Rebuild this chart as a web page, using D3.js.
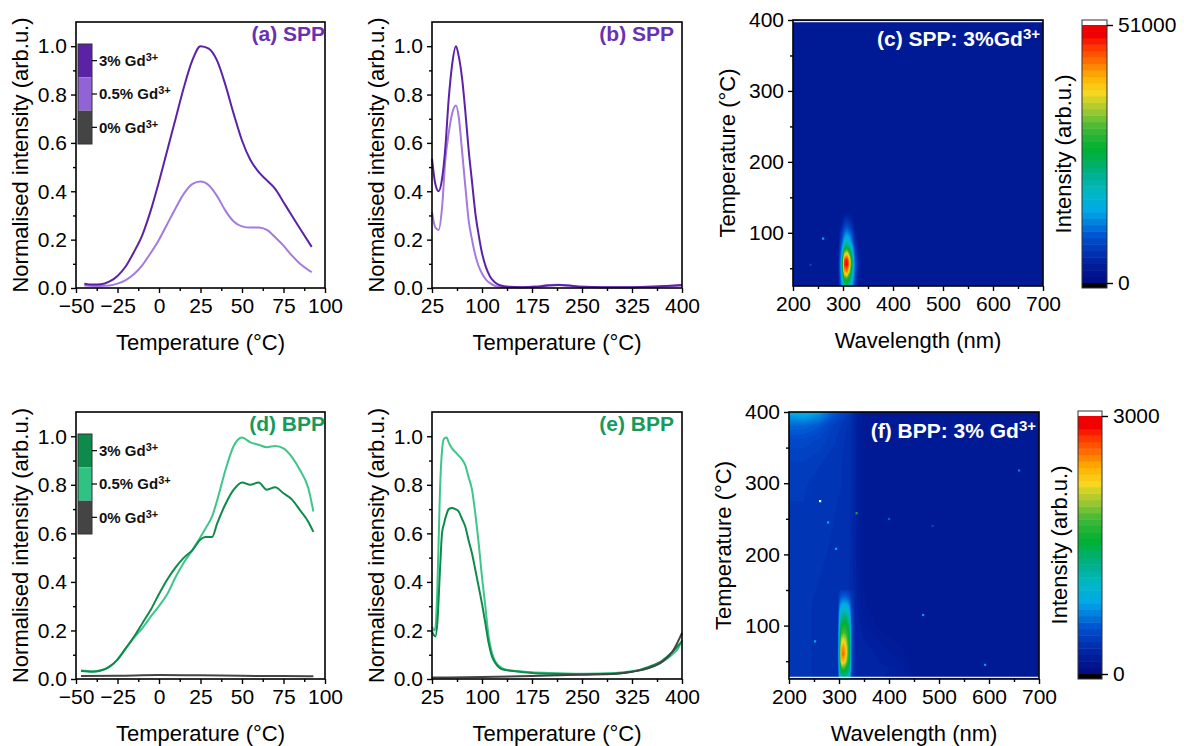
<!DOCTYPE html>
<html>
<head>
<meta charset="utf-8">
<script src="https://cdn.jsdelivr.net/npm/d3@7"></script>
<style>
  body { margin: 0; background: #fff; }
  svg { font-family: Arial, "Liberation Sans", sans-serif; }
</style>
</head>
<body>
<svg id="fig" width="1184" height="746"></svg>
<script>
// ---- data ----
// (a) SPP, low temperature range
var tempA = [-45, -40, -35, -30, -25, -20, -15, -10, -5, 0, 5, 10, 15, 20, 25, 30, 35, 40, 45, 50, 55, 60, 65, 70, 75, 80, 85, 92];
var sppA_3 = [0.018, 0.014, 0.015, 0.026, 0.05, 0.09, 0.15, 0.22, 0.32, 0.44, 0.57, 0.70, 0.83, 0.94, 1.0, 0.99, 0.94, 0.84, 0.72, 0.61, 0.53, 0.48, 0.445, 0.41, 0.355, 0.30, 0.245, 0.17];
var sppA_05 = [0.01, 0.008, 0.008, 0.01, 0.018, 0.033, 0.058, 0.095, 0.145, 0.20, 0.265, 0.33, 0.39, 0.43, 0.44, 0.425, 0.38, 0.32, 0.275, 0.255, 0.25, 0.25, 0.24, 0.21, 0.175, 0.135, 0.10, 0.065];

// (b) SPP, high temperature range
var tempB = [25, 30, 35, 40, 45, 50, 55, 61, 65, 70, 75, 80, 85, 90, 95, 100, 106, 112, 120, 128, 140, 160, 180, 200, 215, 230, 250, 280, 320, 360, 400];
var sppB_3 = [0.535, 0.43, 0.40, 0.45, 0.58, 0.78, 0.92, 1.0, 0.96, 0.87, 0.73, 0.57, 0.44, 0.31, 0.22, 0.145, 0.085, 0.048, 0.022, 0.01, 0.005, 0.003, 0.005, 0.01, 0.012, 0.01, 0.005, 0.003, 0.003, 0.006, 0.012];
var sppB_05 = [0.315, 0.25, 0.24, 0.33, 0.53, 0.64, 0.72, 0.755, 0.71, 0.57, 0.42, 0.28, 0.20, 0.135, 0.09, 0.06, 0.035, 0.02, 0.008, 0.004, 0.003, 0.003, 0.006, 0.012, 0.013, 0.01, 0.005, 0.003, 0.003, 0.005, 0.01];

// (d) BPP, low temperature range
var tempD = [-47, -40, -35, -30, -25, -20, -15, -10, -5, 0, 5, 10, 15, 20, 25, 28, 32, 35, 40, 45, 50, 55, 60, 65, 70, 75, 80, 85, 90, 93];
var bppD_3 = [0.033, 0.030, 0.035, 0.05, 0.08, 0.127, 0.175, 0.23, 0.285, 0.35, 0.41, 0.46, 0.50, 0.53, 0.575, 0.585, 0.585, 0.64, 0.72, 0.78, 0.81, 0.80, 0.81, 0.78, 0.79, 0.765, 0.74, 0.695, 0.647, 0.606];
var bppD_05 = [0.035, 0.032, 0.036, 0.05, 0.08, 0.125, 0.17, 0.21, 0.257, 0.30, 0.35, 0.42, 0.48, 0.53, 0.585, 0.62, 0.67, 0.735, 0.86, 0.96, 0.995, 0.975, 0.965, 0.955, 0.96, 0.95, 0.915, 0.86, 0.785, 0.69];
var tempD0 = [-47, -25, 0, 25, 50, 75, 93];
var bppD_0 = [0.012, 0.013, 0.016, 0.015, 0.013, 0.012, 0.011];

// (e) BPP, high temperature range
var tempE = [25, 28, 30, 33, 37, 40, 43, 47, 50, 55, 60, 65, 70, 75, 80, 85, 90, 95, 100, 105, 110, 115, 120, 130, 140, 150, 175, 200, 250, 300, 325, 350, 370, 385, 395, 400];
var bppE_05 = [0.216, 0.20, 0.21, 0.37, 0.78, 0.94, 0.99, 0.995, 0.975, 0.95, 0.935, 0.92, 0.905, 0.88, 0.83, 0.78, 0.68, 0.56, 0.42, 0.30, 0.175, 0.107, 0.072, 0.045, 0.036, 0.033, 0.028, 0.025, 0.022, 0.025, 0.032, 0.045, 0.07, 0.10, 0.13, 0.16];
var bppE_3 = [0.195, 0.18, 0.175, 0.23, 0.45, 0.60, 0.64, 0.68, 0.70, 0.705, 0.70, 0.69, 0.66, 0.627, 0.57, 0.517, 0.45, 0.38, 0.31, 0.23, 0.148, 0.093, 0.066, 0.04, 0.035, 0.032, 0.025, 0.022, 0.02, 0.022, 0.03, 0.05, 0.075, 0.11, 0.14, 0.155];
var tempE0 = [25, 100, 175, 250, 300, 325, 350, 370, 385, 395, 400];
var bppE_0 = [0.006, 0.008, 0.012, 0.018, 0.022, 0.03, 0.045, 0.07, 0.11, 0.16, 0.19];

var legendLabels = ["3%", "0.5%", "0%"];

// (c) SPP 3% Gd map: intensity around the 310 nm emission
var maxC = 51000;
var wlC = [290, 298, 303, 308, 313, 318, 324, 332, 340];
var tC = [130, 120, 110, 100, 90, 80, 70, 62, 55, 45, 35, 25];
var spotC = [
  [2600, 2600, 3100, 3100, 3100, 3100, 2600, 2600, 2600],
  [2600, 3600, 5100, 5600, 5100, 4100, 3100, 2600, 2600],
  [2600, 5100, 7700, 8700, 7700, 6100, 3600, 2600, 2600],
  [2600, 7100, 11200, 12800, 11200, 8700, 4100, 3100, 2600],
  [2600, 9200, 15300, 17300, 15300, 11200, 5100, 3100, 2600],
  [2600, 12200, 22400, 25500, 21400, 15300, 6600, 3600, 2600],
  [2600, 15300, 35700, 39800, 31600, 20400, 8200, 4100, 2600],
  [2600, 17300, 45900, 49000, 39800, 23500, 9200, 4600, 2600],
  [2600, 18400, 47400, 49500, 40800, 23500, 9700, 4600, 2600],
  [2600, 17300, 40800, 43400, 33700, 21400, 9200, 4600, 2600],
  [2600, 15300, 28000, 29600, 24500, 17300, 7700, 4100, 2600],
  [2600, 13300, 21400, 23000, 19400, 14300, 6100, 3600, 2600]
];
var specksC = [[260, 92, 15000], [235, 55, 8000]];

// (f) BPP 3% Gd map: broad background plus the 310 nm emission
var maxF = 3000;
var wlF = [200, 230, 260, 290, 320, 335, 350, 380, 420, 460, 700];
var tF = [400, 392, 380, 360, 330, 300, 200, 130, 100, 60, 40, 25];
var backF = [
  [900, 960, 840, 600, 420, 270, 180, 150, 150, 150, 150],
  [780, 810, 720, 540, 390, 270, 180, 150, 150, 150, 150],
  [630, 630, 570, 450, 360, 255, 180, 150, 150, 150, 150],
  [510, 510, 480, 420, 360, 255, 180, 150, 150, 150, 150],
  [450, 450, 420, 390, 360, 255, 180, 150, 150, 150, 150],
  [420, 420, 390, 390, 360, 255, 180, 150, 150, 150, 150],
  [390, 390, 390, 360, 345, 255, 180, 150, 150, 150, 150],
  [390, 390, 360, 360, 345, 270, 195, 150, 150, 150, 150],
  [390, 390, 360, 360, 345, 285, 240, 180, 150, 150, 150],
  [390, 390, 360, 360, 345, 300, 285, 255, 210, 150, 150],
  [390, 390, 360, 360, 345, 300, 285, 270, 255, 150, 150],
  [390, 390, 360, 360, 345, 300, 285, 270, 240, 150, 150]
];
var wlF2 = [298, 302, 305, 309, 313, 317, 321, 325, 332];
var tF2 = [150, 140, 130, 120, 110, 100, 90, 80, 70, 60, 50, 40, 30, 25];
var spotF = [
  [360, 390, 420, 420, 420, 420, 390, 360, 330],
  [360, 540, 600, 630, 630, 600, 540, 390, 330],
  [360, 720, 840, 870, 870, 840, 720, 420, 330],
  [360, 900, 1080, 1140, 1140, 1080, 900, 450, 330],
  [360, 1080, 1320, 1410, 1410, 1320, 1080, 480, 330],
  [360, 1260, 1560, 1650, 1650, 1560, 1260, 510, 330],
  [360, 1380, 1740, 1860, 1800, 1680, 1380, 540, 330],
  [360, 1500, 2100, 2220, 2100, 1800, 1440, 540, 330],
  [360, 1560, 2400, 2520, 2340, 1920, 1500, 540, 330],
  [360, 1560, 2520, 2640, 2400, 1920, 1500, 540, 330],
  [360, 1500, 2340, 2400, 2160, 1800, 1440, 540, 330],
  [360, 1320, 1740, 1800, 1680, 1500, 1260, 480, 330],
  [360, 1080, 1260, 1320, 1260, 1200, 1020, 420, 330],
  [360, 960, 1080, 1140, 1080, 1020, 900, 390, 330]
];
var specksF = [[262, 275, 3300], [335, 258, 1600], [278, 245, 900], [294, 208, 900], [252, 78, 900],
               [468, 115, 800], [592, 45, 800], [660, 318, 700], [400, 250, 600], [487, 240, 500]];

// Origin-like rainbow ramp
var rampStops = [0, 0.08, 0.18, 0.28, 0.35, 0.42, 0.52, 0.60, 0.67, 0.74, 0.80, 0.86, 0.92, 0.96, 1];
var rampColors = ["#000c80", "#0020a0", "#0050d0", "#00a8e8", "#00b8c8", "#00b090", "#00b030", "#40b838",
                  "#a0c830", "#f8d820", "#ffb000", "#ff7000", "#ff3000", "#f00000", "#f00000"];

var purple3 = "#5b22a6", purple05 = "#a47ade", purpleLeg05 = "#9163d4", purpleText = "#6b30b0";
var green3 = "#0e8a4a", green05 = "#3cc68a", greenLeg05 = "#30c283", greenText = "#17995a";
var grey0 = "#444";

var svg = d3.select("#fig");
var TICK = 21, TITLE = 22;

function lineAxes(g, x, y, xMajor, xMinor, box) {
  var ax = g.append("g").attr("transform", "translate(0," + box.y1 + ")");
  ax.call(d3.axisBottom(x).tickValues(xMinor).tickSize(3).tickFormat(""));
  ax.append("g").call(d3.axisBottom(x).tickValues(xMajor).tickSize(5).tickPadding(5));
  var ay = g.append("g").attr("transform", "translate(" + box.x0 + ",0)");
  ay.call(d3.axisLeft(y).tickValues(d3.range(0.1, 1.1, 0.2)).tickSize(3).tickFormat(""));
  ay.append("g").call(d3.axisLeft(y).tickValues([0, 0.2, 0.4, 0.6, 0.8, 1.0]).tickSize(5).tickPadding(4).tickFormat(d3.format(".1f")));
  g.selectAll(".domain").remove();
  g.selectAll(".tick line").attr("stroke", "#000").attr("stroke-width", 1.4);
  g.selectAll(".tick text").attr("font-size", TICK).attr("fill", "#000").attr("font-family", "Arial, Liberation Sans");
  g.append("rect").attr("x", box.x0).attr("y", box.y0).attr("width", box.x1 - box.x0).attr("height", box.y1 - box.y0)
    .attr("fill", "none").attr("stroke", "#000").attr("stroke-width", 1.6);
}

function titles(g, box, xt, yt, yOff) {
  g.append("text").attr("x", (box.x0 + box.x1) / 2).attr("y", box.y1 + 62).attr("text-anchor", "middle")
    .attr("font-size", TITLE).text(xt);
  g.append("text").attr("transform", "translate(" + (box.x0 - yOff) + "," + ((box.y0 + box.y1) / 2) + ") rotate(-90)")
    .attr("text-anchor", "middle").attr("dy", "0.35em").attr("font-size", TITLE).text(yt);
}

function linePanel(opt) {
  var box = opt.box;
  var g = svg.append("g");
  var x = d3.scaleLinear().domain(opt.xDomain).range([box.x0, box.x1]);
  var y = d3.scaleLinear().domain([0, 1.1]).range([box.y1, box.y0]);
  var line = d3.line().x(function (d) { return x(d[0]); }).y(function (d) { return y(d[1]); }).curve(d3.curveMonotoneX);
  opt.series.forEach(function (s) {
    g.append("path").datum(d3.zip(s.t, s.v)).attr("d", line)
      .attr("fill", "none").attr("stroke", s.color).attr("stroke-width", 2);
  });
  lineAxes(g, x, y, opt.xMajor, opt.xMinor, box);
  titles(g, box, "Temperature (\u00B0C)", "Normalised intensity (arb.u.)", 56);
  g.append("text").attr("x", box.x1 - opt.labelInset).attr("y", box.y0 + 19).attr("text-anchor", "end")
    .attr("font-size", 21).attr("font-weight", "bold").attr("fill", opt.labelColor).text(opt.label);
  if (opt.legend) {
    var lg = g.append("g");
    var ly = d3.scaleBand().domain(legendLabels).range([box.y0 + 22, box.y0 + 122]);
    lg.selectAll("rect").data(legendLabels).join("rect")
      .attr("x", box.x0 + 2).attr("y", function (d) { return ly(d); })
      .attr("width", 14).attr("height", ly.bandwidth())
      .attr("fill", function (d, i) { return opt.legend[i]; });
    lg.append("rect").attr("x", box.x0 + 2).attr("y", box.y0 + 22).attr("width", 14).attr("height", 100)
      .attr("fill", "none").attr("stroke", "#333").attr("stroke-width", 1);
    legendLabels.forEach(function (d) {
      var cy = ly(d) + ly.bandwidth() / 2;
      lg.append("line").attr("x1", box.x0 + 16).attr("x2", box.x0 + 21).attr("y1", cy).attr("y2", cy)
        .attr("stroke", "#000").attr("stroke-width", 1.2);
      var t = lg.append("text").attr("x", box.x0 + 23).attr("y", cy).attr("dy", "0.35em")
        .attr("font-size", 15).attr("font-weight", "bold").attr("fill", "#111");
      t.append("tspan").text(d + " Gd");
      t.append("tspan").attr("dy", "-0.45em").attr("font-size", 11).text("3+");
    });
  }
}

function makeColor(max) {
  var ramp = d3.scaleLinear().domain(rampStops.map(function (s) { return s * max; })).range(rampColors).clamp(true);
  return function (v) { return v > max ? "#ffffff" : v < 0 ? "#000000" : ramp(v); };
}

function interpIdx(arr, u) {
  u = Math.max(0, Math.min(arr.length - 1, u - 0.5));
  var i = Math.min(arr.length - 2, Math.floor(u));
  return arr[i] + (u - i) * (arr[i + 1] - arr[i]);
}

function contourLayer(g, cols, rows, grid, x, y, color, thresholds) {
  var proj = d3.geoTransform({
    point: function (px, py) { this.stream.point(x(interpIdx(cols, px)), y(interpIdx(rows, py))); }
  });
  var path = d3.geoPath(proj);
  var cs = d3.contours().size([cols.length, rows.length]).thresholds(thresholds)(grid.flat());
  g.append("g").selectAll("path").data(cs).join("path")
    .attr("d", path).attr("fill", function (d) { return color(d.value); });
}

function heatPanel(opt) {
  var box = opt.box;
  var g = svg.append("g");
  var x = d3.scaleLinear().domain([200, 700]).range([box.x0, box.x1]);
  var y = d3.scaleLinear().domain([25, 400]).range([box.y1, box.y0]);
  var color = makeColor(opt.max);
  var clipId = "clip" + opt.id;
  g.append("clipPath").attr("id", clipId).append("rect")
    .attr("x", box.x0).attr("y", box.y0).attr("width", box.x1 - box.x0).attr("height", box.y1 - box.y0);
  var plot = g.append("g").attr("clip-path", "url(#" + clipId + ")");
  var levels = d3.range(1, 81).map(function (k) { return k * opt.max / 80; });
  opt.layers.forEach(function (L, i) {
    var lo = d3.min(L.grid.flat());
    if (i === 0) {
      plot.append("rect").attr("x", box.x0).attr("y", box.y0).attr("width", box.x1 - box.x0).attr("height", box.y1 - box.y0)
        .attr("fill", color(lo));
    }
    contourLayer(plot, L.cols, L.rows, L.grid, x, y, color, levels.filter(function (t) { return t > lo; }));
  });
  plot.selectAll(".speck").data(opt.specks).join("rect").attr("class", "speck")
    .attr("x", function (d) { return x(d[0]) - 1; }).attr("y", function (d) { return y(d[1]) - 1; })
    .attr("width", 2.2).attr("height", 2.2).attr("fill", function (d) { return color(d[2]); });
  plot.append("line").attr("x1", box.x0).attr("x2", box.x1)
    .attr("y1", opt.edgeLine).attr("y2", opt.edgeLine).attr("stroke", "#e8eef8").attr("stroke-width", 1.5);

  var ax = g.append("g").attr("transform", "translate(0," + box.y1 + ")");
  ax.call(d3.axisBottom(x).tickValues([250, 350, 450, 550, 650]).tickSize(3).tickFormat(""));
  ax.append("g").call(d3.axisBottom(x).tickValues([200, 300, 400, 500, 600, 700]).tickSize(5).tickPadding(5));
  var ay = g.append("g").attr("transform", "translate(" + box.x0 + ",0)");
  ay.call(d3.axisLeft(y).tickValues([50, 150, 250, 350]).tickSize(3).tickFormat(""));
  ay.append("g").call(d3.axisLeft(y).tickValues([100, 200, 300, 400]).tickSize(5).tickPadding(4));
  g.selectAll(".domain").remove();
  g.selectAll(".tick line").attr("stroke", "#000").attr("stroke-width", 1.4);
  g.selectAll(".tick text").attr("font-size", TICK).attr("fill", "#000").attr("font-family", "Arial, Liberation Sans");
  g.append("rect").attr("x", box.x0).attr("y", box.y0).attr("width", box.x1 - box.x0).attr("height", box.y1 - box.y0)
    .attr("fill", "none").attr("stroke", "#000").attr("stroke-width", 1.6);
  titles(g, box, "Wavelength (nm)", "Temperature (\u00B0C)", 66);

  var lab = g.append("text").attr("x", box.x1 - 3).attr("y", box.y0 + 26).attr("text-anchor", "end")
    .attr("font-size", 21).attr("font-weight", "bold").attr("fill", "#fff");
  lab.append("tspan").text(opt.label);
  lab.append("tspan").attr("dy", "-0.5em").attr("font-size", 15).text("3+");

  // colour bar
  var cb = opt.bar;
  var cy = d3.scaleLinear().domain([0, opt.max]).range([cb.y1 - 5, cb.y0 + 5]);
  var bands = d3.range(0, 40).map(function (k) { return k * opt.max / 40; });
  var step = opt.max / 40;
  g.append("g").selectAll("rect").data(bands).join("rect")
    .attr("x", cb.x0).attr("width", cb.x1 - cb.x0)
    .attr("y", function (d) { return cy(d + step); }).attr("height", function (d) { return cy(d) - cy(d + step) + 0.5; })
    .attr("fill", function (d) { return color(d + step / 2); });
  g.append("rect").attr("x", cb.x0).attr("y", cb.y0).attr("width", cb.x1 - cb.x0).attr("height", 5).attr("fill", "#fff");
  g.append("rect").attr("x", cb.x0).attr("y", cb.y1 - 5).attr("width", cb.x1 - cb.x0).attr("height", 5).attr("fill", "#000");
  g.append("rect").attr("x", cb.x0).attr("y", cb.y0).attr("width", cb.x1 - cb.x0).attr("height", cb.y1 - cb.y0)
    .attr("fill", "none").attr("stroke", "#333").attr("stroke-width", 1);
  var cax = g.append("g").attr("transform", "translate(" + cb.x1 + ",0)")
    .call(d3.axisRight(cy).tickValues([0, opt.max]).tickSize(6).tickPadding(5).tickFormat(d3.format("d")));
  cax.select(".domain").remove();
  cax.selectAll(".tick line").attr("stroke", "#000").attr("stroke-width", 1.4);
  cax.selectAll(".tick text").attr("font-size", TICK).attr("fill", "#000").attr("font-family", "Arial, Liberation Sans");
  g.append("text").attr("transform", "translate(" + (cb.x0 - 19) + "," + ((cb.y0 + cb.y1) / 2) + ") rotate(-90)")
    .attr("text-anchor", "middle").attr("dy", "0.35em").attr("font-size", TITLE).text("Intensity (arb.u.)");
}

// ---- panels ----
linePanel({
  box: { x0: 76, x1: 325, y0: 22, y1: 288 }, xDomain: [-50, 100],
  xMajor: [-50, -25, 0, 25, 50, 75, 100], xMinor: d3.range(-37.5, 100, 25),
  series: [{ t: tempA, v: sppA_05, color: purple05 }, { t: tempA, v: sppA_3, color: purple3 }],
  label: "(a) SPP", labelColor: purpleText, labelInset: 0,
  legend: [purple3, purpleLeg05, grey0]
});
linePanel({
  box: { x0: 432, x1: 682, y0: 22, y1: 288 }, xDomain: [25, 400],
  xMajor: [25, 100, 175, 250, 325, 400], xMinor: d3.range(62.5, 400, 75),
  series: [{ t: tempB, v: sppB_05, color: purple05 }, { t: tempB, v: sppB_3, color: purple3 }],
  label: "(b) SPP", labelColor: purpleText, labelInset: 8
});
linePanel({
  box: { x0: 76, x1: 325, y0: 412, y1: 679 }, xDomain: [-50, 100],
  xMajor: [-50, -25, 0, 25, 50, 75, 100], xMinor: d3.range(-37.5, 100, 25),
  series: [{ t: tempD0, v: bppD_0, color: grey0 }, { t: tempD, v: bppD_05, color: green05 }, { t: tempD, v: bppD_3, color: green3 }],
  label: "(d) BPP", labelColor: greenText, labelInset: 0,
  legend: [green3, greenLeg05, grey0]
});
linePanel({
  box: { x0: 432, x1: 682, y0: 412, y1: 679 }, xDomain: [25, 400],
  xMajor: [25, 100, 175, 250, 325, 400], xMinor: d3.range(62.5, 400, 75),
  series: [{ t: tempE, v: bppE_05, color: green05 }, { t: tempE, v: bppE_3, color: green3 }, { t: tempE0, v: bppE_0, color: grey0 }],
  label: "(e) BPP", labelColor: greenText, labelInset: 8
});
heatPanel({
  id: "c", box: { x0: 793, x1: 1043, y0: 20, y1: 286 }, max: maxC,
  layers: [{ cols: wlC, rows: tC, grid: spotC }], specks: specksC,
  label: "(c) SPP: 3%Gd", edgeLine: 21.5,
  bar: { x0: 1082, x1: 1107, y0: 20, y1: 288 }
});
heatPanel({
  id: "f", box: { x0: 789, x1: 1039, y0: 412, y1: 679 }, max: maxF,
  layers: [{ cols: wlF, rows: tF, grid: backF }, { cols: wlF2, rows: tF2, grid: spotF }], specks: specksF,
  label: "(f) BPP: 3% Gd", edgeLine: 677.5,
  bar: { x0: 1078, x1: 1102, y0: 411, y1: 679 }
});
</script>
</body>
</html>
